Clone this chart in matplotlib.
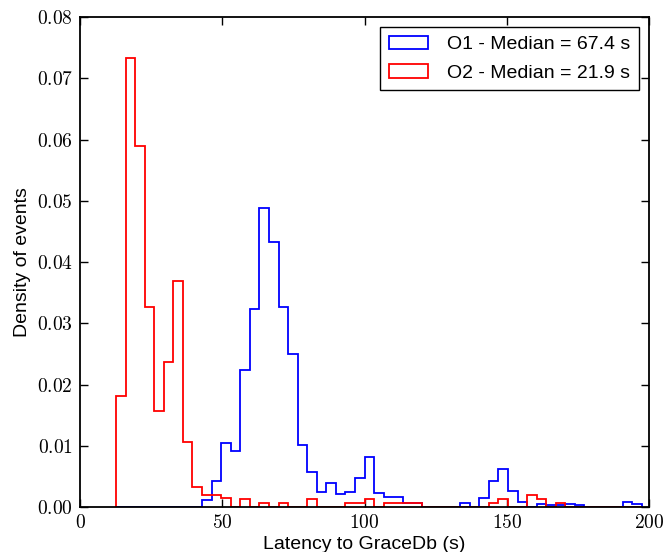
import numpy as np
import matplotlib
matplotlib.use("Agg")
import matplotlib.pyplot as plt
from matplotlib.ticker import FuncFormatter, MultipleLocator


# ---------------- data ----------------
BIN_START = 12.65
BIN_WIDTH = 3.36
N_BINS = 55

O1_DENSITY = [
    0, 0, 0, 0, 0, 0, 0, 0, 0, 0.0011,
    0.0043, 0.0104, 0.0092, 0.0223, 0.0323, 0.0489, 0.0432, 0.0327, 0.0250, 0.0102,
    0.0057, 0.0025, 0.0039, 0.0022, 0.0025, 0.0048, 0.0081, 0.0023, 0.0017, 0.0017,
    0.0007, 0.0007, 0, 0, 0, 0, 0.0006, 0, 0.0015, 0.0043,
    0.0062, 0.0026, 0.0009, 0, 0.0005, 0.0003, 0.0003, 0.0005, 0.0003, 0,
    0, 0, 0, 0.0008, 0.0005,
]

O2_DENSITY = [
    0.0181, 0.0733, 0.0589, 0.0326, 0.0156, 0.0237, 0.0369, 0.0106, 0.0032, 0.0020,
    0.0020, 0.0015, 0, 0.0013, 0, 0.0007, 0, 0.0007, 0, 0,
    0.0013, 0, 0, 0, 0.0007, 0.0007, 0.0013, 0, 0.0007, 0.0007,
    0.0007, 0.0007, 0, 0, 0, 0, 0, 0, 0, 0.0007,
    0.0013, 0, 0, 0.0019, 0.0013, 0, 0.0007, 0, 0, 0,
    0, 0, 0, 0, 0,
]

O1_LABEL = "O1 - Median = 67.4 s"
O2_LABEL = "O2 - Median = 21.9 s"
# -----------------------------------------------------------

plt.rcParams["font.family"] = ["Liberation Sans", "DejaVu Sans"]
plt.rcParams["mathtext.fontset"] = "cm"

edges = BIN_START + BIN_WIDTH * np.arange(N_BINS + 1)
centers = 0.5 * (edges[:-1] + edges[1:])

fig = plt.figure(figsize=(6.65, 5.52), dpi=100)
ax = fig.add_axes([0.1203, 0.0815, 0.8557, 0.8875])

ax.hist(centers, bins=edges, weights=O1_DENSITY, histtype="step",
        color="blue", linewidth=1.3, label=O1_LABEL)
ax.hist(centers, bins=edges, weights=O2_DENSITY, histtype="step",
        color="red", linewidth=1.3, label=O2_LABEL)

ax.set_xlim(0, 200)
ax.set_ylim(0, 0.08)
ax.xaxis.set_major_locator(MultipleLocator(50))
ax.yaxis.set_major_locator(MultipleLocator(0.01))
ax.xaxis.set_major_formatter(FuncFormatter(lambda v, p: r"$%d$" % v))
ax.yaxis.set_major_formatter(FuncFormatter(lambda v, p: r"$%.2f$" % v))

ax.tick_params(direction="in", length=6, width=1, top=True, right=True,
               labelsize=14, pad=5)
for s in ax.spines.values():
    s.set_linewidth(1.3)

ax.set_xlabel("Latency to GraceDb (s)", fontsize=14, labelpad=3)
ax.set_ylabel("Density of events", fontsize=14, labelpad=4)

leg = ax.legend(loc="upper right", fontsize=14, fancybox=False,
                framealpha=1, edgecolor="black", handlelength=2.0,
                handletextpad=1.0, borderpad=0.45, labelspacing=0.55,
                borderaxespad=0.5)
leg.get_frame().set_linewidth(1.0)

fig.savefig("out.png", dpi=100)
